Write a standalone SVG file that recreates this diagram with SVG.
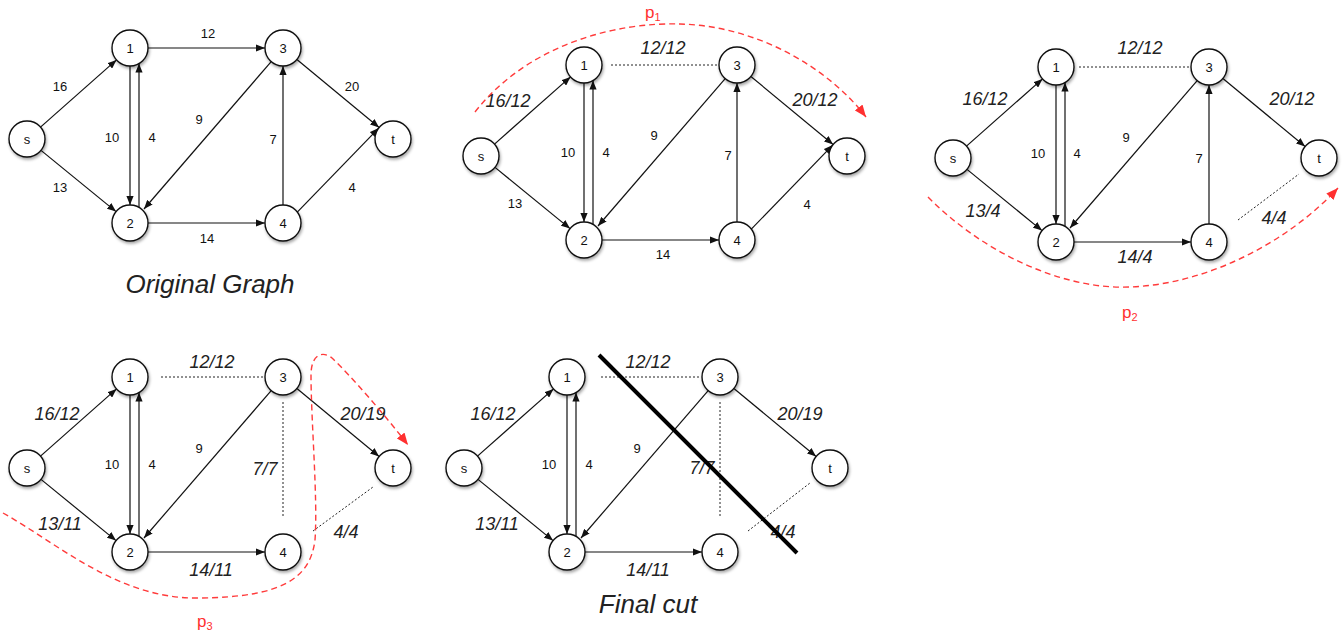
<svg xmlns="http://www.w3.org/2000/svg" width="1344" height="639" viewBox="0 0 1344 639">
  <defs>
    <marker id="arr" viewBox="0 0 10 8" markerWidth="9" markerHeight="7.2" refX="10" refY="4" orient="auto" markerUnits="userSpaceOnUse">
      <path d="M0,0 L10,4 L0,8 z" fill="#111"/>
    </marker>
    <marker id="rarr" viewBox="0 0 10 8" markerWidth="12" markerHeight="9.6" refX="10" refY="4" orient="auto" markerUnits="userSpaceOnUse">
      <path d="M0,0 L10,4 L0,8 z" fill="#ff3030"/>
    </marker>
    <filter id="sh" x="-50%" y="-50%" width="200%" height="200%">
      <feDropShadow dx="1" dy="2" stdDeviation="1.6" flood-color="#000" flood-opacity="0.35"/>
    </filter>
    <style>
      text { font-family: "Liberation Sans", Arial, sans-serif; fill: #111; text-anchor: middle; }
      .edge { stroke: #111; stroke-width: 1.2; fill: none; marker-end: url(#arr); }
      .sat { stroke: #222; stroke-width: 1; stroke-dasharray: 2 2; fill: none; }
      .node circle { fill: #fff; stroke: #111; stroke-width: 1.4; filter: url(#sh); }
      .node text { font-size: 13px; }
      .cap { font-size: 13px; }
      .flow { font-size: 18px; font-style: italic; fill: #222; }
      .aug { stroke: #ff3b3b; stroke-width: 1.4; stroke-dasharray: 6 4; fill: none; marker-end: url(#rarr); }
      .plab { fill: #ff3030; font-size: 17px; text-anchor: start; }
      .plab tspan.sub { font-size: 11px; }
      .title { font-size: 26px; font-style: italic; fill: #222; }
      .cut { stroke: #000; stroke-width: 4; }
    </style>
  </defs>
  <rect width="1344" height="639" fill="#fff"/>

  <!-- Panel 1: original capacities -->
  <g id="panel1" transform="translate(27,139)">
    <g id="panel1-edges">
      <path class="edge" d="M13.5,-11.9 L89.5,-79.1"/>
      <path class="edge" d="M14,11.4 L89,72.6"/>
      <path class="edge" d="M121,-91 L238,-91"/>
      <path class="edge" d="M103,-73 L103,66"/>
      <path class="edge" d="M112,68.4 L112,-75.4"/>
      <path class="edge" d="M244.2,-77.4 L117,70"/>
      <path class="edge" d="M121,84 L238,84"/>
      <path class="edge" d="M256,66 L256,-73"/>
      <path class="edge" d="M269.9,-79.5 L352.1,-11.5"/>
      <path class="edge" d="M270.3,73.1 L351.7,-10.9"/>
      <text class="cap" x="181" y="-101.5">12</text>
      <text class="cap" x="33" y="-48.5">16</text>
      <text class="cap" x="325" y="-48.5">20</text>
      <text class="cap" x="85" y="2.5">10</text>
      <text class="cap" x="125" y="2.5">4</text>
      <text class="cap" x="172" y="-15.5">9</text>
      <text class="cap" x="246" y="4.5">7</text>
      <text class="cap" x="33" y="52.5">13</text>
      <text class="cap" x="325" y="52.5">4</text>
      <text class="cap" x="180" y="103.5">14</text>
    </g>
    <g id="panel1-s" class="node"><circle cx="0" cy="0" r="18"/><text x="0" y="4.5">s</text></g>
    <g id="panel1-1" class="node"><circle cx="103" cy="-91" r="18"/><text x="103" y="-86.5">1</text></g>
    <g id="panel1-2" class="node"><circle cx="103" cy="84" r="18"/><text x="103" y="88.5">2</text></g>
    <g id="panel1-3" class="node"><circle cx="256" cy="-91" r="18"/><text x="256" y="-86.5">3</text></g>
    <g id="panel1-4" class="node"><circle cx="256" cy="84" r="18"/><text x="256" y="88.5">4</text></g>
    <g id="panel1-t" class="node"><circle cx="366" cy="0" r="18"/><text x="366" y="4.5">t</text></g>
  </g>
  <text class="title" x="210" y="293">Original Graph</text>

  <!-- Panel 2: after p1 -->
  <g id="panel2" transform="translate(481,156)">
    <g id="panel2-edges">
      <path class="edge" d="M13.5,-11.9 L89.5,-79.1"/>
      <path class="edge" d="M14,11.4 L89,72.6"/>
      <path class="sat" d="M130,-91 L237,-91"/>
      <path class="edge" d="M103,-73 L103,66"/>
      <path class="edge" d="M112,68.4 L112,-75.4"/>
      <path class="edge" d="M244.2,-77.4 L117,70"/>
      <path class="edge" d="M121,84 L238,84"/>
      <path class="edge" d="M256,66 L256,-73"/>
      <path class="edge" d="M269.9,-79.5 L352.1,-11.5"/>
      <path class="edge" d="M270.3,73.1 L351.7,-10.9"/>
      <text class="flow" x="182" y="-102.5">12/12</text>
      <text class="flow" x="27" y="-49.5">16/12</text>
      <text class="flow" x="334" y="-50.5">20/12</text>
      <text class="cap" x="87" y="0.5">10</text>
      <text class="cap" x="125" y="0.5">4</text>
      <text class="cap" x="173" y="-16.5">9</text>
      <text class="cap" x="247" y="3.5">7</text>
      <text class="cap" x="34" y="51.5">13</text>
      <text class="cap" x="326" y="52.5">4</text>
      <text class="cap" x="182" y="102.5">14</text>
    </g>
    <g id="panel2-s" class="node"><circle cx="0" cy="0" r="18"/><text x="0" y="4.5">s</text></g>
    <g id="panel2-1" class="node"><circle cx="103" cy="-91" r="18"/><text x="103" y="-86.5">1</text></g>
    <g id="panel2-2" class="node"><circle cx="103" cy="84" r="18"/><text x="103" y="88.5">2</text></g>
    <g id="panel2-3" class="node"><circle cx="256" cy="-91" r="18"/><text x="256" y="-86.5">3</text></g>
    <g id="panel2-4" class="node"><circle cx="256" cy="84" r="18"/><text x="256" y="88.5">4</text></g>
    <g id="panel2-t" class="node"><circle cx="366" cy="0" r="18"/><text x="366" y="4.5">t</text></g>
  </g>

  <!-- Panel 3: after p2 -->
  <g id="panel3" transform="translate(953,158)">
    <g id="panel3-edges">
      <path class="edge" d="M13.5,-11.9 L89.5,-79.1"/>
      <path class="edge" d="M14,11.4 L89,72.6"/>
      <path class="sat" d="M126,-91 L237,-91"/>
      <path class="edge" d="M103,-73 L103,66"/>
      <path class="edge" d="M112,68.4 L112,-75.4"/>
      <path class="edge" d="M244.2,-77.4 L117,70"/>
      <path class="edge" d="M121,84 L238,84"/>
      <path class="edge" d="M256,66 L256,-73"/>
      <path class="edge" d="M269.9,-79.5 L352.1,-11.5"/>
      <path class="sat" d="M285,62 L346,16"/>
      <text class="flow" x="187" y="-104.5">12/12</text>
      <text class="flow" x="32" y="-53.5">16/12</text>
      <text class="flow" x="339" y="-53.5">20/12</text>
      <text class="cap" x="85" y="-0.5">10</text>
      <text class="cap" x="124" y="-0.5">4</text>
      <text class="cap" x="173" y="-16.5">9</text>
      <text class="cap" x="246" y="4.5">7</text>
      <text class="flow" x="30" y="58.5">13/4</text>
      <text class="flow" x="321" y="65.5">4/4</text>
      <text class="flow" x="182" y="104.5">14/4</text>
    </g>
    <g id="panel3-s" class="node"><circle cx="0" cy="0" r="18"/><text x="0" y="4.5">s</text></g>
    <g id="panel3-1" class="node"><circle cx="103" cy="-91" r="18"/><text x="103" y="-86.5">1</text></g>
    <g id="panel3-2" class="node"><circle cx="103" cy="84" r="18"/><text x="103" y="88.5">2</text></g>
    <g id="panel3-3" class="node"><circle cx="256" cy="-91" r="18"/><text x="256" y="-86.5">3</text></g>
    <g id="panel3-4" class="node"><circle cx="256" cy="84" r="18"/><text x="256" y="88.5">4</text></g>
    <g id="panel3-t" class="node"><circle cx="366" cy="0" r="18"/><text x="366" y="4.5">t</text></g>
  </g>

  <!-- Panel 4: after p3 -->
  <g id="panel4" transform="translate(27,468)">
    <g id="panel4-edges">
      <path class="edge" d="M13.5,-11.9 L89.5,-79.1"/>
      <path class="edge" d="M14,11.4 L89,72.6"/>
      <path class="sat" d="M134,-91 L236,-91"/>
      <path class="edge" d="M103,-73 L103,66"/>
      <path class="edge" d="M112,68.4 L112,-75.4"/>
      <path class="edge" d="M244.2,-77.4 L117,70"/>
      <path class="edge" d="M121,84 L238,84"/>
      <path class="sat" d="M256,-66 L256,49"/>
      <path class="edge" d="M269.9,-79.5 L352.1,-11.5"/>
      <path class="sat" d="M286,63 L346,19"/>
      <text class="flow" x="185" y="-100.5">12/12</text>
      <text class="flow" x="30" y="-48.5">16/12</text>
      <text class="flow" x="336" y="-48.5">20/19</text>
      <text class="cap" x="85" y="0.5">10</text>
      <text class="cap" x="125" y="0.5">4</text>
      <text class="cap" x="172" y="-15.5">9</text>
      <text class="flow" x="238" y="6.5">7/7</text>
      <text class="flow" x="33" y="61.5">13/11</text>
      <text class="flow" x="319" y="69.5">4/4</text>
      <text class="flow" x="184" y="107.5">14/11</text>
    </g>
    <g id="panel4-s" class="node"><circle cx="0" cy="0" r="18"/><text x="0" y="4.5">s</text></g>
    <g id="panel4-1" class="node"><circle cx="103" cy="-91" r="18"/><text x="103" y="-86.5">1</text></g>
    <g id="panel4-2" class="node"><circle cx="103" cy="84" r="18"/><text x="103" y="88.5">2</text></g>
    <g id="panel4-3" class="node"><circle cx="256" cy="-91" r="18"/><text x="256" y="-86.5">3</text></g>
    <g id="panel4-4" class="node"><circle cx="256" cy="84" r="18"/><text x="256" y="88.5">4</text></g>
    <g id="panel4-t" class="node"><circle cx="366" cy="0" r="18"/><text x="366" y="4.5">t</text></g>
  </g>

  <!-- Panel 5: minimum cut -->
  <g id="panel5" transform="translate(464,468)">
    <g id="panel5-edges">
      <path class="edge" d="M13.5,-11.9 L89.5,-79.1"/>
      <path class="edge" d="M14,11.4 L89,72.6"/>
      <path class="sat" d="M137,-91 L236,-91"/>
      <path class="edge" d="M103,-73 L103,66"/>
      <path class="edge" d="M112,68.4 L112,-75.4"/>
      <path class="edge" d="M244.2,-77.4 L117,70"/>
      <path class="edge" d="M121,84 L238,84"/>
      <path class="sat" d="M256,-66 L256,49"/>
      <path class="edge" d="M269.9,-79.5 L352.1,-11.5"/>
      <path class="sat" d="M284,63 L346,15"/>
      <text class="flow" x="184" y="-100.5">12/12</text>
      <text class="flow" x="29" y="-48.5">16/12</text>
      <text class="flow" x="336" y="-48.5">20/19</text>
      <text class="cap" x="85" y="0.5">10</text>
      <text class="cap" x="125" y="0.5">4</text>
      <text class="cap" x="173" y="-15.5">9</text>
      <text class="flow" x="238" y="5.5">7/7</text>
      <text class="flow" x="33" y="61.5">13/11</text>
      <text class="flow" x="319" y="69.5">4/4</text>
      <text class="flow" x="184" y="107.5">14/11</text>
    </g>
    <g id="panel5-s" class="node"><circle cx="0" cy="0" r="18"/><text x="0" y="4.5">s</text></g>
    <g id="panel5-1" class="node"><circle cx="103" cy="-91" r="18"/><text x="103" y="-86.5">1</text></g>
    <g id="panel5-2" class="node"><circle cx="103" cy="84" r="18"/><text x="103" y="88.5">2</text></g>
    <g id="panel5-3" class="node"><circle cx="256" cy="-91" r="18"/><text x="256" y="-86.5">3</text></g>
    <g id="panel5-4" class="node"><circle cx="256" cy="84" r="18"/><text x="256" y="88.5">4</text></g>
    <g id="panel5-t" class="node"><circle cx="366" cy="0" r="18"/><text x="366" y="4.5">t</text></g>
  </g>
  <line class="cut" x1="599" y1="355" x2="797" y2="553"/>
  <text class="title" x="648" y="613">Final cut</text>

  <!-- Augmenting paths -->
  <g id="augmenting-paths">
    <path class="aug" d="M475,112 C530,42 620,22 680,24 C760,26 830,70 866,117"/>
    <text class="plab" x="645" y="18">p<tspan class="sub" dy="3">1</tspan></text>
    <path class="aug" d="M928,197 C980,250 1060,290 1130,287 C1210,284 1290,240 1338,188"/>
    <text class="plab" x="1122" y="318">p<tspan class="sub" dy="3">2</tspan></text>
    <path class="aug" d="M3,513 C60,545 120,600 200,598 C280,597 310,580 315,540 C318,500 311,420 311,375 C311,355 322,350 332,358 C350,375 385,415 408,445"/>
    <text class="plab" x="197" y="627">p<tspan class="sub" dy="3">3</tspan></text>
  </g>
</svg>
